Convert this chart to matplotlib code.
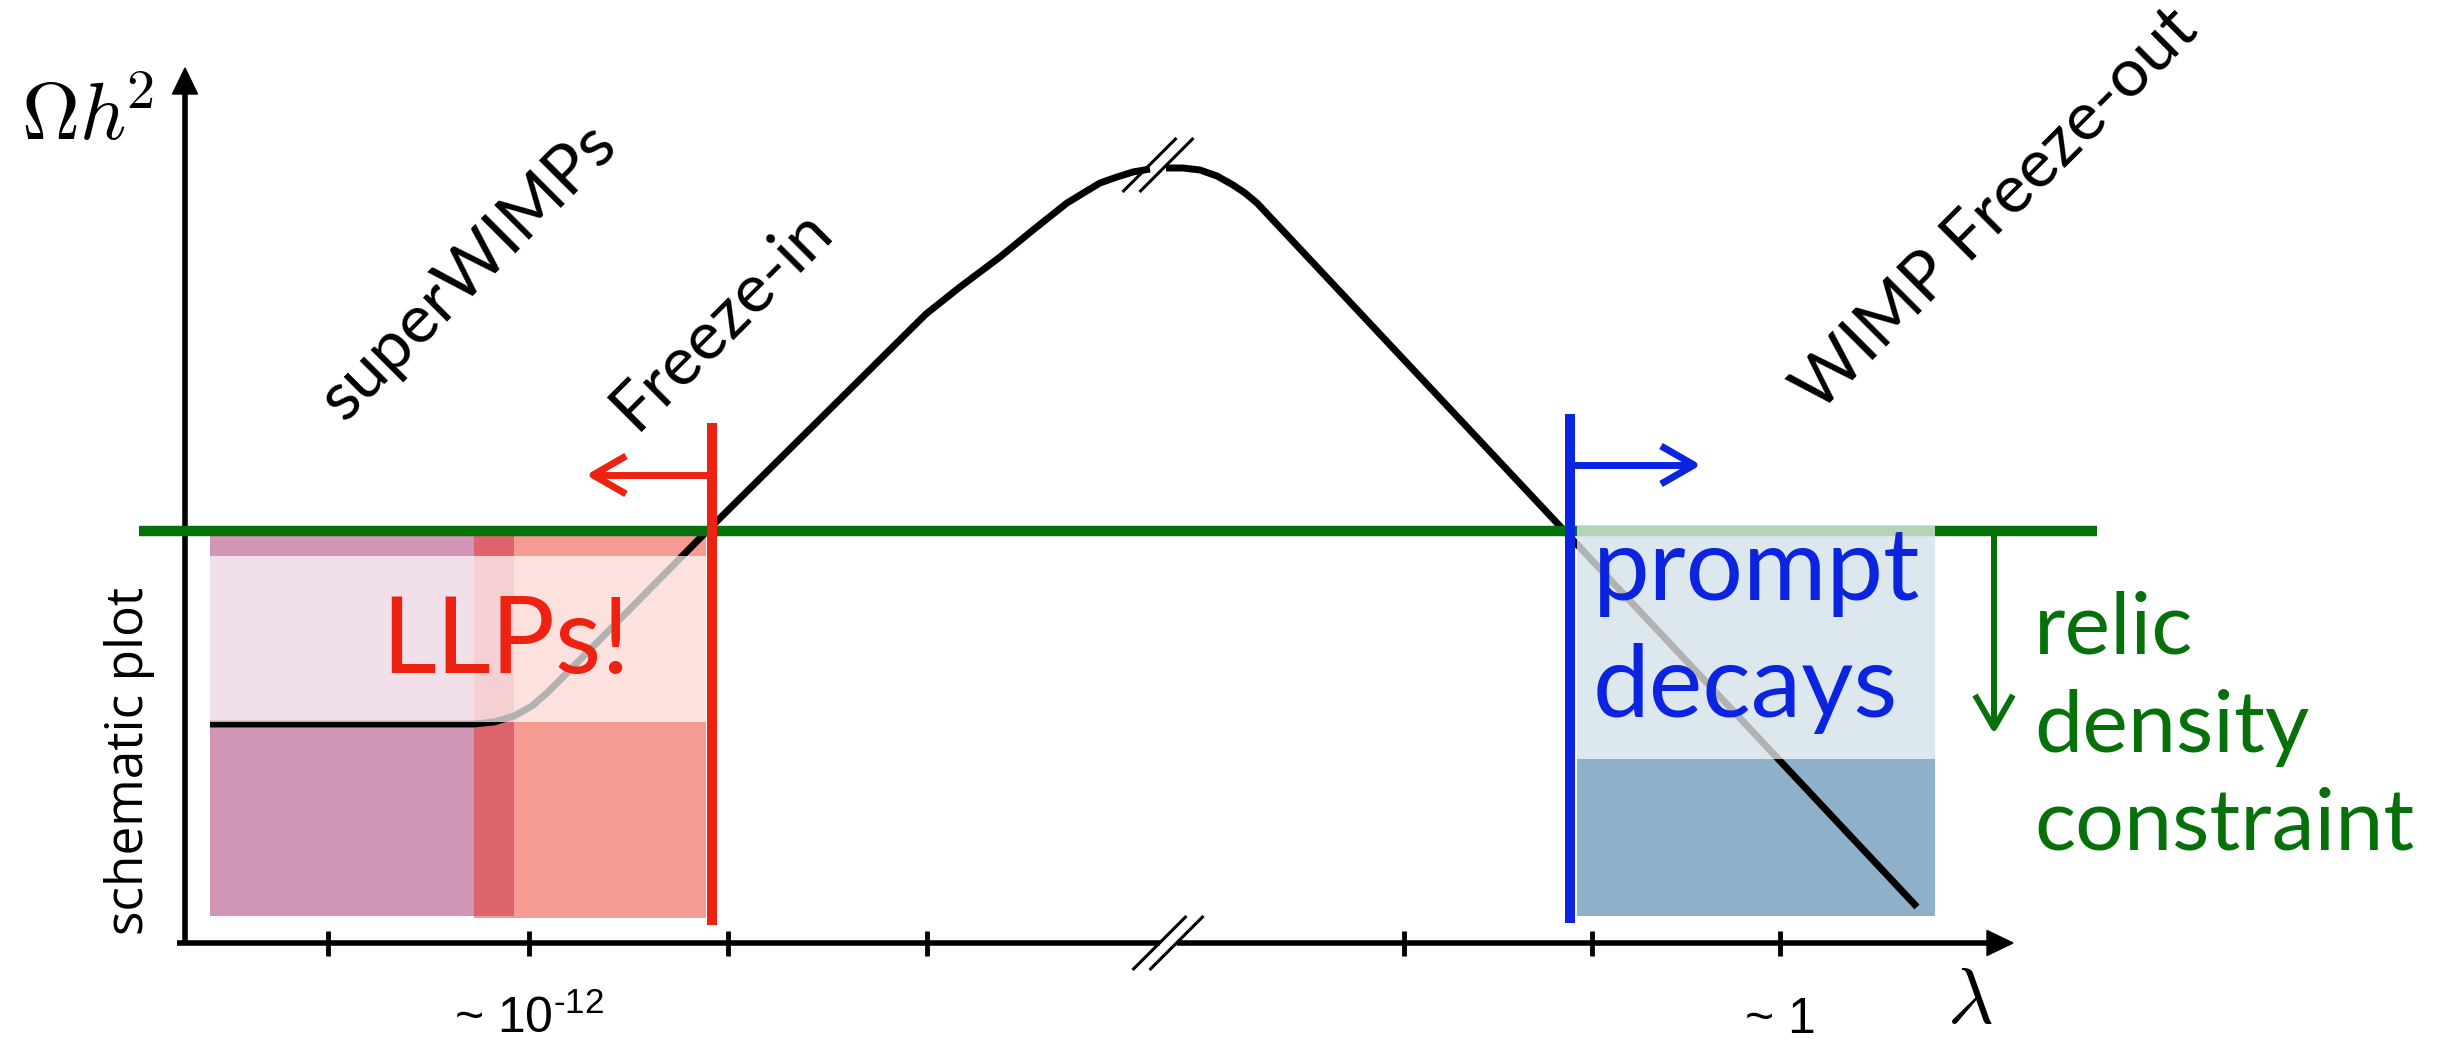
import matplotlib
matplotlib.use("Agg")
import matplotlib.pyplot as plt
from matplotlib.patches import Rectangle, Polygon

# ---------------- schematic values (arbitrary units) ----------------
# relic abundance curve Omega h^2 versus coupling lambda (two pieces around the axis break)
curve_x_low = [25, 289, 309, 329, 347, 363, 377, 522, 741, 775, 815, 848, 882,
               900, 915, 932, 948, 965]
curve_y_low = [219, 219, 221, 227, 237, 251, 265, 412, 629, 656, 686, 713, 740,
               751, 760, 766, 771, 774]
curve_x_high = [981, 998, 1015, 1032, 1048, 1060, 1072, 1732]
curve_y_high = [775, 775, 773, 767, 758, 750, 740, 36]

relic_level = 412
relic_span = [-46, 1912]

freeze_in_edge = 527
freeze_in_line_span = [18, 520]
prompt_edge = 1385
prompt_line_span = [20, 529]

# shaded regions: x0, x1, y0, y1
superwimp_box = [25, 329, 27, 407]
freeze_in_box = [289, 521, 25, 417]
llp_band = [25, 521, 221, 387]
prompt_box = [1392, 1750, 27, 417]
prompt_band = [1392, 1750, 184, 417]

tick_positions = [143, 344, 543, 742, 1219, 1407, 1595]
tick_labels = {344: "~ 10$^{\\text{-12}}$", 1595: "~ 1"}

axis_break_x = 983
curve_break_x = 973
curve_break_y = 778

x_axis_end = 1828
y_axis_end = 875

# ---------------- styling ----------------
RED = "#ee2211"
BLUE = "#0a24e0"
GREEN = "#06700a"
PURPLE_BASE = (159 / 255, 36 / 255, 103 / 255)
RED_BASE = (236 / 255, 47 / 255, 28 / 255)
PROMPT_FILL = "#8eb0c8"
TEXT_FONT = ["Lato", "DejaVu Sans"]
TICK_FONT = ["Liberation Sans", "DejaVu Sans"]

fig = plt.figure(figsize=(24.62, 10.39), dpi=100)
ax = fig.add_axes([0, 0, 1, 1])
ax.set_xlim(-185, 2277)
ax.set_ylim(-96, 943)
ax.patch.set_visible(False)

# ---------------- axes with arrows ----------------
head_len, head_half = 26, 12.5
for side in ("top", "right"):
    ax.spines[side].set_visible(False)
ax.spines["bottom"].set_position(("data", 0))
ax.spines["left"].set_position(("data", 0))
ax.spines["bottom"].set_bounds(-8, x_axis_end - head_len)
ax.spines["left"].set_bounds(0, y_axis_end - head_len)
for side in ("bottom", "left"):
    ax.spines[side].set_linewidth(4)
    ax.spines[side].set_capstyle("butt")
ax.set_yticks([])
ax.set_xticks(tick_positions)
ax.tick_params(axis="x", direction="inout", length=18, width=3.5, labelbottom=False)

ax.add_patch(Polygon([(x_axis_end - head_len, -head_half), (x_axis_end, 0),
                      (x_axis_end - head_len, head_half)], closed=True,
                     color="black", clip_on=False, zorder=3))
ax.add_patch(Polygon([(-head_half, y_axis_end - head_len), (0, y_axis_end),
                      (head_half, y_axis_end - head_len)], closed=True,
                     color="black", clip_on=False, zorder=3))

# break marks on the lambda axis
gap = 17
ax.plot([axis_break_x - gap / 2, axis_break_x + gap / 2], [0, 0], color="white",
        lw=6, zorder=3, solid_capstyle="butt")
for dx in (-gap / 2, gap / 2):
    ax.plot([axis_break_x + dx - 27, axis_break_x + dx + 27], [-27, 27],
            color="black", lw=2.2, zorder=3.2, solid_capstyle="butt")

# ---------------- shaded regions ----------------
def box(spec, **kw):
    x0, x1, y0, y1 = spec
    ax.add_patch(Rectangle((x0, y0), x1 - x0, y1 - y0, linewidth=0, **kw))

box(superwimp_box, facecolor=PURPLE_BASE, alpha=0.48, zorder=1)
box(freeze_in_box, facecolor=RED_BASE, alpha=0.48, zorder=1.1)
box(prompt_box, facecolor=PROMPT_FILL, zorder=1)

# ---------------- relic abundance curve ----------------
ax.plot(curve_x_low, curve_y_low, color="black", lw=5, zorder=2,
        solid_capstyle="butt", solid_joinstyle="round")
ax.plot(curve_x_high, curve_y_high, color="black", lw=5, zorder=2,
        solid_capstyle="butt", solid_joinstyle="round")
for dx in (-gap / 2, gap / 2):
    ax.plot([curve_break_x + dx - 27, curve_break_x + dx + 27],
            [curve_break_y - 27, curve_break_y + 27],
            color="black", lw=2.2, zorder=2.2, solid_capstyle="butt")

# relic density line
ax.plot(relic_span, [relic_level, relic_level], color=GREEN, lw=7.5, zorder=3,
        solid_capstyle="butt", clip_on=False)

# translucent bands on top
box(llp_band, facecolor="white", alpha=0.7, zorder=4)
box(prompt_band, facecolor="white", alpha=0.7, zorder=4)

# ---------------- boundaries and arrows ----------------
ax.plot([freeze_in_edge, freeze_in_edge], freeze_in_line_span, color=RED, lw=7.2,
        zorder=5, solid_capstyle="butt")
ax.plot([prompt_edge, prompt_edge], prompt_line_span, color=BLUE, lw=7.2,
        zorder=5, solid_capstyle="butt")

head_back, head_wing = 33, 19


def arrow(x0, y0, x1, y1, color, lw):
    ax.plot([x0, x1], [y0, y1], color=color, lw=lw, zorder=5, solid_capstyle="butt")
    if y0 == y1:
        s = 1 if x1 > x0 else -1
        xs = [x1 - s * head_back, x1, x1 - s * head_back]
        ys = [y1 + head_wing, y1, y1 - head_wing]
    else:
        s = 1 if y1 > y0 else -1
        xs = [x1 - head_wing, x1, x1 + head_wing]
        ys = [y1 - s * head_back, y1, y1 - s * head_back]
    ax.plot(xs, ys, color=color, lw=lw, zorder=5, solid_capstyle="butt",
            solid_joinstyle="round")


arrow(freeze_in_edge, 468, 408, 468, RED, 5)
arrow(prompt_edge, 478, 1509, 478, BLUE, 5)
arrow(1809, relic_level, 1809, 215, GREEN, 4.3)

# ---------------- labels ----------------
ax.text(283, 672, "superWIMPs", rotation=45, rotation_mode="anchor", ha="center",
        va="center", fontsize=49, family=TEXT_FONT, zorder=6)
ax.text(537, 624, "Freeze-in", rotation=45, rotation_mode="anchor", ha="center",
        va="center", fontsize=49, family=TEXT_FONT, zorder=6)
ax.text(1811, 733, "WIMP Freeze-out", rotation=45, rotation_mode="anchor",
        ha="center", va="center", fontsize=49, family=TEXT_FONT, zorder=6)

ax.text(321, 270, "LLPs!", ha="center", va="baseline", fontsize=77, color=RED,
        family=TEXT_FONT, zorder=6)
ax.text(1408, 343, "prompt", ha="left", va="baseline", fontsize=73, color=BLUE,
        family=TEXT_FONT, zorder=6)
ax.text(1408, 226, "decays", ha="left", va="baseline", fontsize=73, color=BLUE,
        family=TEXT_FONT, zorder=6)
for word, yb in zip(["relic", "density", "constraint"], [290, 191, 93]):
    ax.text(1849, yb, word, ha="left", va="baseline", fontsize=62, color=GREEN,
            family=TEXT_FONT, zorder=6)

ax.text(-55, 182, "schematic plot", rotation=90, ha="center", va="center",
        fontsize=37, family=["Open Sans", "DejaVu Sans"], zorder=6)

ax.text(-164, 803, r"$\Omega h^{\!2}$", math_fontfamily="cm", fontsize=58,
        ha="left", va="baseline")
ax.text(1785, -80, r"$\lambda$", math_fontfamily="cm", fontsize=57,
        ha="center", va="baseline")

plt.rcParams["mathtext.fontset"] = "custom"
plt.rcParams["mathtext.rm"] = "Liberation Sans"
for pos, lab in tick_labels.items():
    ax.text(pos, -90, lab, ha="center", va="baseline", fontsize=36,
            family=TICK_FONT, math_fontfamily="custom")

fig.savefig("out.png", dpi=100)
